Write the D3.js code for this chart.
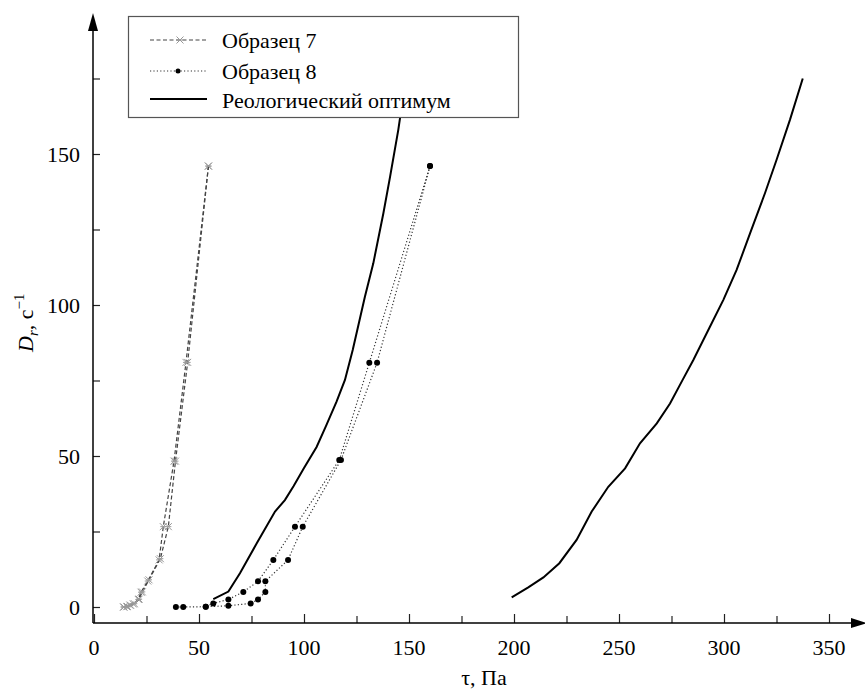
<!DOCTYPE html>
<html>
<head>
<meta charset="utf-8">
<script src="https://cdn.jsdelivr.net/npm/d3@7"></script>
<style>
	body { margin: 0; background: #fff; }
	svg { display: block; }
</style>
</head>
<body>
<div id="chart"></div>
<script>
// [tau, Dr] pairs
var sample7Up = [[14,0],[15.6,0.1],[17.1,0.6],[18.7,1],[21.1,2.5],[22.4,4.9],[25.6,8.6],[31,15.6],[33,26.6],[38.1,48.3],[43.8,81],[54.5,146]];
var sample7Down = [[54.5,146],[44.6,81],[38.8,48.3],[35.4,26.6],[31.6,16],[26.2,9],[23,5],[21.5,2.6],[19.2,1.1],[17.4,0.6],[15.9,0.2],[14.3,0]];

var sample8Up = [[39,0],[42.5,0],[53.2,0.1],[56.8,1.2],[64,2.5],[71.1,5],[78.1,8.5],[85.4,15.6],[95.7,26.6],[116.8,48.7],[131.1,80.9],[160,146]];
var sample8Down = [[160,146],[134.8,80.9],[117.6,48.7],[99.4,26.6],[92.4,15.6],[81.6,8.5],[81.6,5],[78.1,2.5],[74.6,1.2],[64,0.4],[53.2,0.1]];

var optimumLeft = [[56.8,2.6],[64,5.1],[69.5,11.2],[77.5,21.1],[86.2,31.6],[90.9,35.4],[95,40],[100,46],[106,53],[110.5,60],[115.5,68],[119.5,75.2],[123.2,85.1],[129,102.7],[133,113.8],[137.8,130.4],[141,142.5],[144.9,158],[148.5,175]];
var optimumRight = [[198.9,3.2],[206.8,6.5],[214,9.8],[221.6,14.5],[229.8,22.2],[237,31.6],[244.9,39.8],[252.9,45.9],[260,54.2],[268,60.8],[274.3,67.4],[280.3,75.2],[285.4,81.8],[293.3,92.8],[299.7,101.7],[306,111.6],[312.4,123.7],[319.5,137],[325,148],[331.4,161.3],[337.5,175]];

var xTicks = [0, 50, 100, 150, 200, 250, 300, 350];
var xMinorTicks = [25, 75, 125, 175, 225, 275, 325];
var yTicks = [0, 50, 100, 150];
var yMinorTicks = [25, 75, 125, 175];
var legendLabels = ["Образец 7", "Образец 8", "Реологический оптимум"];

var width = 865, height = 692;
var serif = "'Liberation Serif', 'Times New Roman', 'DejaVu Serif', serif";

var svg = d3.select("#chart").append("svg")
	.attr("width", width)
	.attr("height", height)
	.attr("font-family", serif);

var x = d3.scaleLinear().domain([0, 350]).range([94, 829]);
var y = d3.scaleLinear().domain([0, 175]).range([607, 78.5]);

var axisX = 93, axisY = 623;

var line = d3.line()
	.x(function(d) { return x(d[0]); })
	.y(function(d) { return y(d[1]); });

// axes (ticks only, the axis lines get arrows below)
svg.append("g")
	.attr("transform", "translate(0," + axisY + ")")
	.call(d3.axisTop(x).tickValues(xTicks).tickSize(9).tickFormat(""))
	.call(function(g) { g.select(".domain").remove(); });
svg.append("g")
	.attr("transform", "translate(0," + axisY + ")")
	.call(d3.axisTop(x).tickValues(xMinorTicks).tickSize(7).tickFormat(""))
	.call(function(g) { g.select(".domain").remove(); });

svg.append("g")
	.attr("transform", "translate(" + axisX + ",0)")
	.call(d3.axisRight(y).tickValues(yTicks.concat(yMinorTicks)).tickSize(7).tickFormat(""))
	.call(function(g) { g.select(".domain").remove(); });

svg.selectAll("line").attr("stroke", "#222").attr("stroke-width", 1.2);

svg.append("line")
	.attr("x1", axisX).attr("x2", 856)
	.attr("y1", axisY).attr("y2", axisY)
	.attr("stroke", "#000").attr("stroke-width", 1.5);
svg.append("path")
	.attr("d", "M851,618L867,623L851,628Z")
	.attr("fill", "#000");

svg.append("line")
	.attr("x1", axisX).attr("x2", axisX)
	.attr("y1", axisY).attr("y2", 22)
	.attr("stroke", "#000").attr("stroke-width", 1.5);
svg.append("path")
	.attr("d", "M88,31L93,13L98,31Z")
	.attr("fill", "#000");

// tick labels
svg.selectAll(".xlbl").data(xTicks).enter().append("text")
	.attr("class", "xlbl")
	.attr("x", function(d) { return x(d); })
	.attr("y", 655)
	.attr("text-anchor", "middle")
	.attr("font-family", serif)
	.attr("font-size", 22)
	.text(function(d) { return d; });

svg.selectAll(".ylbl").data(yTicks).enter().append("text")
	.attr("class", "ylbl")
	.attr("x", 80)
	.attr("y", function(d) { return y(d); })
	.attr("dy", "0.35em")
	.attr("text-anchor", "end")
	.attr("font-family", serif)
	.attr("font-size", 22)
	.text(function(d) { return d; });

svg.append("text")
	.attr("x", 484)
	.attr("y", 685)
	.attr("text-anchor", "middle")
	.attr("font-family", serif)
	.attr("font-size", 22)
	.text("τ, Па");

var ylab = svg.append("text")
	.attr("transform", "translate(33,352) rotate(-90)")
	.attr("font-family", serif)
	.attr("font-size", 22);
ylab.append("tspan").attr("font-style", "italic").text("D");
ylab.append("tspan").attr("font-style", "italic").attr("font-size", 15).attr("dy", 5).text("r");
ylab.append("tspan").attr("dy", -5).text(", с");
ylab.append("tspan").attr("font-size", 15).attr("dy", -9).text("−1");

// series
function drawCross(g, pts) {
	g.selectAll("path.mk").data(pts).enter().append("path")
		.attr("class", "mk")
		.attr("transform", function(d) { return "translate(" + x(d[0]) + "," + y(d[1]) + ")"; })
		.attr("d", "M-3.5,-3.5L3.5,3.5M-3.5,3.5L3.5,-3.5M-3,0L3,0")
		.attr("stroke", "#999")
		.attr("stroke-width", 1)
		.attr("fill", "none");
}

var s7 = svg.append("g");
[sample7Up, sample7Down].forEach(function(pts) {
	s7.append("path").datum(pts)
		.attr("d", line)
		.attr("fill", "none")
		.attr("stroke", "#444")
		.attr("stroke-width", 1.2)
		.attr("stroke-dasharray", "4,2.5");
});
drawCross(s7, sample7Up.concat(sample7Down));

var s8 = svg.append("g");
[sample8Up, sample8Down].forEach(function(pts) {
	s8.append("path").datum(pts)
		.attr("d", line)
		.attr("fill", "none")
		.attr("stroke", "#333")
		.attr("stroke-width", 1.2)
		.attr("stroke-dasharray", "1.2,2.2");
});
s8.selectAll("circle").data(sample8Up.concat(sample8Down)).enter().append("circle")
	.attr("cx", function(d) { return x(d[0]); })
	.attr("cy", function(d) { return y(d[1]); })
	.attr("r", 3)
	.attr("fill", "#000");

[optimumLeft, optimumRight].forEach(function(pts) {
	svg.append("path").datum(pts)
		.attr("d", line)
		.attr("fill", "none")
		.attr("stroke", "#000")
		.attr("stroke-width", 2);
});

// legend
var legend = svg.append("g");
legend.append("rect")
	.attr("x", 128.5).attr("y", 16.5)
	.attr("width", 390).attr("height", 101)
	.attr("fill", "#fff")
	.attr("stroke", "#555")
	.attr("stroke-width", 1.2);

var rowsY = [40, 71, 99];
var baseY = [48, 79, 108];
legend.append("line").attr("x1", 150).attr("x2", 207).attr("y1", rowsY[0]).attr("y2", rowsY[0])
	.attr("stroke", "#444").attr("stroke-width", 1.2).attr("stroke-dasharray", "4,2.5");
drawCross(legend.append("g"), [[x.invert(180), y.invert(rowsY[0])]]);
legend.append("line").attr("x1", 150).attr("x2", 207).attr("y1", rowsY[1]).attr("y2", rowsY[1])
	.attr("stroke", "#333").attr("stroke-width", 1.2).attr("stroke-dasharray", "1.2,2.2");
legend.append("circle").attr("cx", 178).attr("cy", rowsY[1]).attr("r", 2.5).attr("fill", "#000");
legend.append("line").attr("x1", 150).attr("x2", 207).attr("y1", rowsY[2]).attr("y2", rowsY[2])
	.attr("stroke", "#000").attr("stroke-width", 2);

legend.selectAll("text").data(legendLabels).enter().append("text")
	.attr("x", 222)
	.attr("y", function(d, i) { return baseY[i]; })
	.attr("font-family", serif)
	.attr("font-size", 22)
	.text(function(d) { return d; });
</script>
</body>
</html>
